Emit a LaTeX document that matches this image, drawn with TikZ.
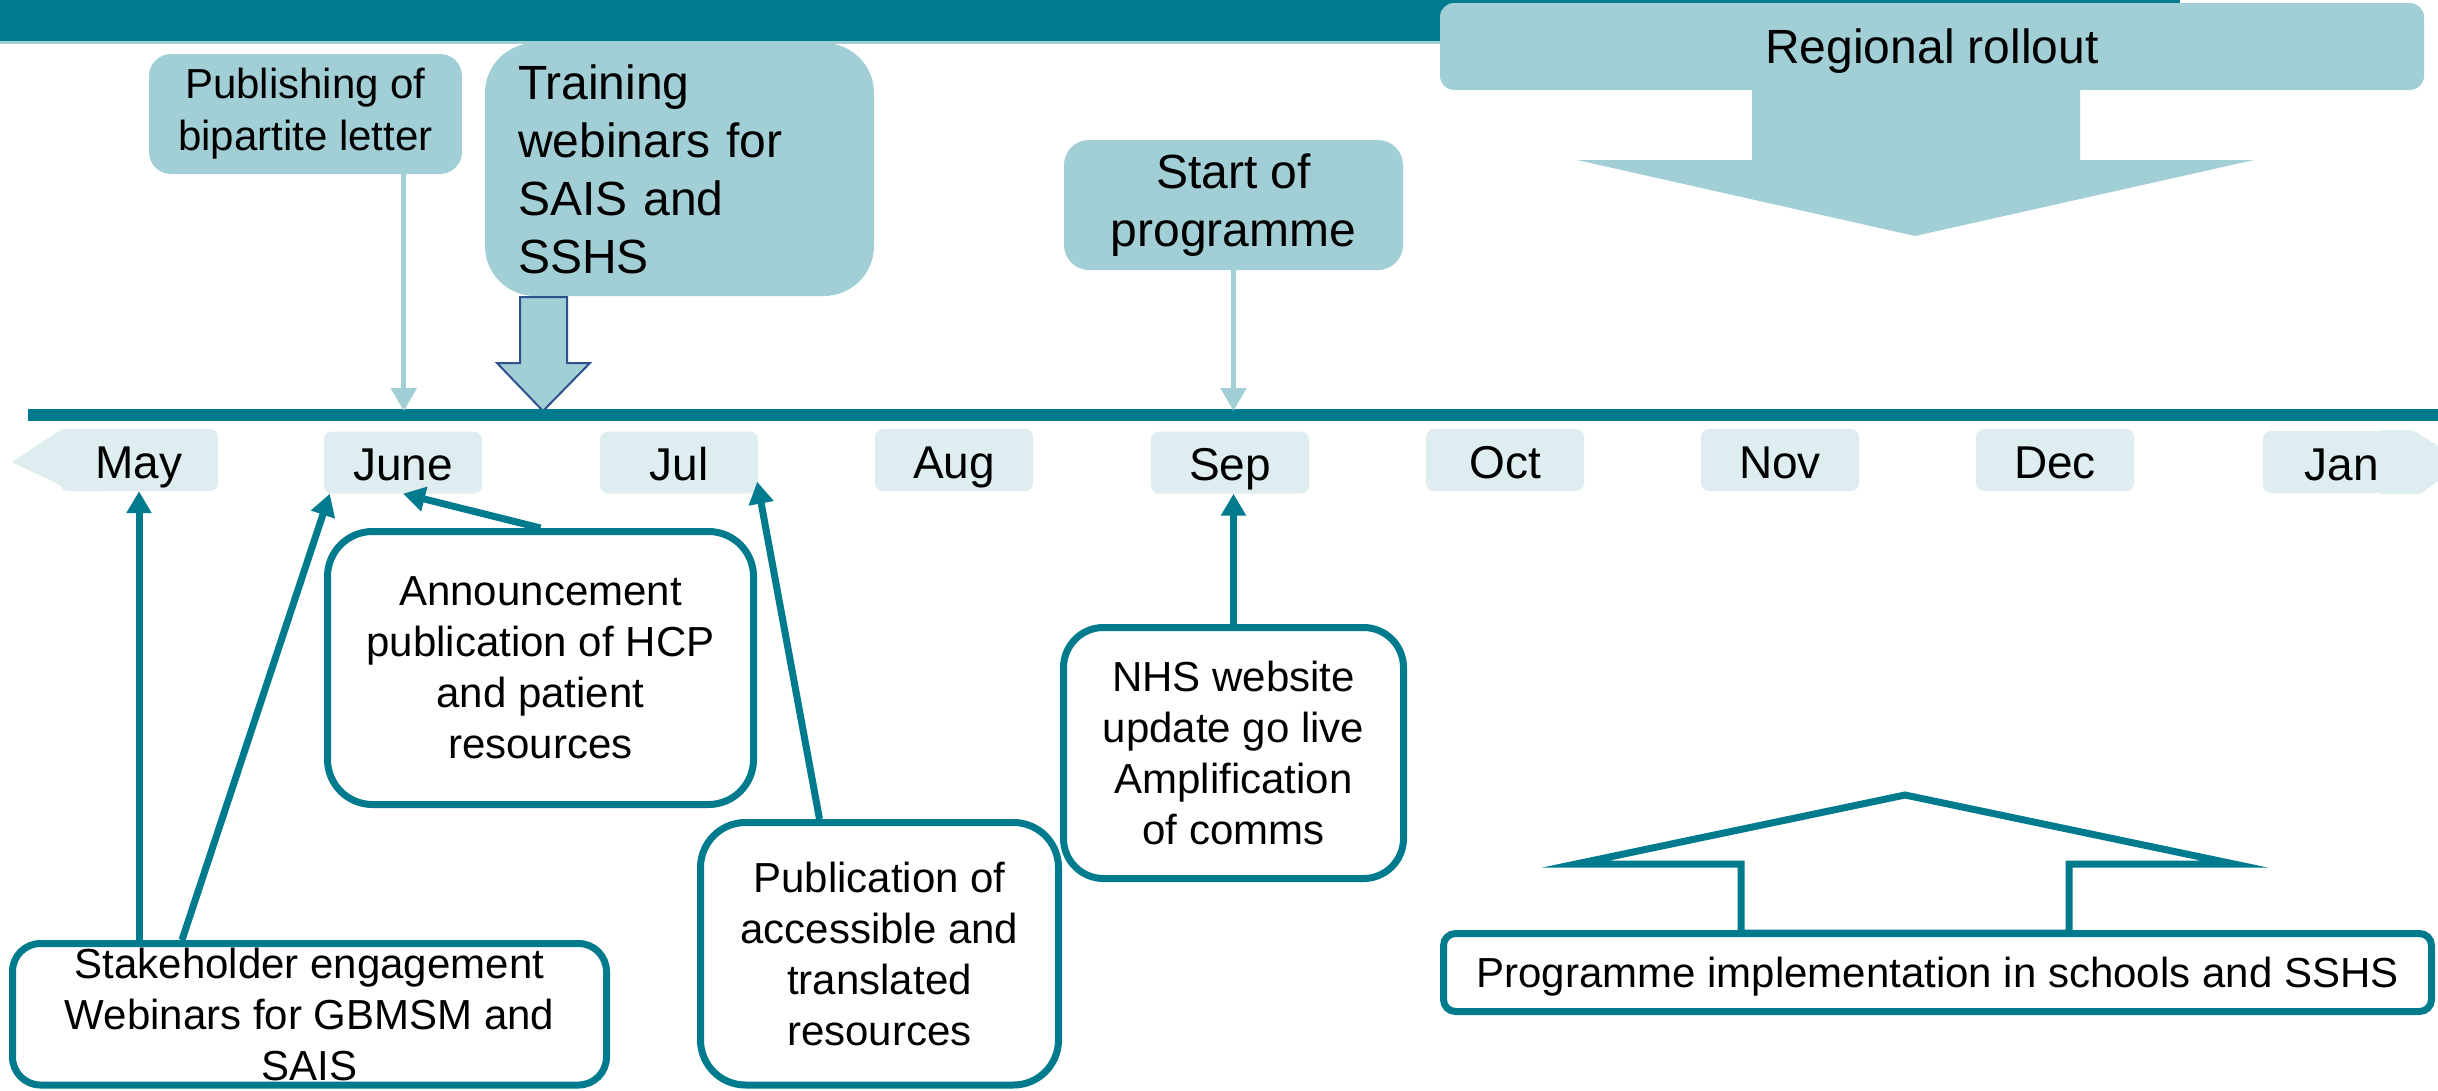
\documentclass[tikz,border=0pt]{standalone}
\usepackage{fontspec}
\setmainfont{Liberation Sans}
\usetikzlibrary{arrows.meta,calc}
\definecolor{teal1}{HTML}{007B8E}
\definecolor{lteal}{HTML}{A2CFD6}
\definecolor{mfill}{HTML}{DDEDF0}
\definecolor{navy}{HTML}{2F528F}
\begin{document}
\begin{tikzpicture}[x=1pt,y=1pt,
  fbox/.style={fill=lteal, rounded corners=#1, inner sep=0pt, align=center},
  tbox/.style={draw=teal1, line width=7pt, fill=white, rounded corners=#1, inner sep=0pt, align=center, font=\fontsize{42}{51}\selectfont},
  month/.style={fill=mfill, rounded corners=8pt, minimum width=158pt, minimum height=62pt, inner sep=0pt, text height=36pt, text depth=0pt, font=\fontsize{46}{55}\selectfont},
  conn/.style={draw=teal1, line width=7pt, -{Triangle[length=22pt 0 0,width=24pt 0 0]}},
  lconn/.style={draw=lteal, line width=5pt, -{Triangle[length=23pt 0 0,width=25pt 0 0]}},
]
\useasboundingbox (0,0) rectangle (2438,-1090);
\begin{scope}
\clip (0,0) rectangle (2438,-1090);
% top bar
\fill[teal1] (0,0) rectangle (2180,-41);
\fill[lteal] (0,-41) rectangle (2180,-43.5);
% regional rollout
\fill[lteal] (1752,-80) -- (1752,-160) -- (1577,-160) -- (1915,-236) -- (2254,-160) -- (2080,-160) -- (2080,-80) -- cycle;
\node[fbox=14pt, minimum width=984pt, minimum height=87pt, text depth=0pt, font=\fontsize{48}{58}\selectfont] (reg) at (1932,-46.5) {Regional rollout};
% publishing
\node[fbox=22pt, minimum width=313pt, minimum height=120pt, font=\fontsize{42}{52}\selectfont] (publ) at (305.5,-114) {Publishing of\\bipartite letter};
% training
\node[fbox=50pt, minimum width=389pt, minimum height=253pt, text width=323pt, align=left, font=\fontsize{48}{58}\selectfont] (train) at (679.5,-169.5) {Training\\webinars for\\SAIS and\\SSHS};
\draw[navy, line width=2pt, fill=lteal] (520,-297) -- (520,-363) -- (497,-363) -- (543,-411) -- (590,-363) -- (567,-363) -- (567,-297) -- cycle;
% start
\node[fbox=25pt, minimum width=339pt, minimum height=130pt, font=\fontsize{48}{58}\selectfont] (start) at (1233.5,-205) {Start of\\programme};
% timeline
\coordinate (tlL) at (28,-415);
\coordinate (tlR) at (2438,-415);
\coordinate (tlT) at (0,-411);
\draw[teal1, line width=12pt] (tlL) -- (tlR);
\coordinate (pA) at ($(publ.south west)+(255,0)$);
\draw[lconn] (pA) -- (pA |- tlT);
\draw[lconn] (start.south) -- (start.south |- tlT);
% months
\fill[mfill] (12,-462) -- (62,-429) -- (100,-429) -- (100,-491) -- (72,-491) -- cycle;
\fill[mfill] (2380,-430) -- (2412,-430) -- (2465,-462) -- (2420,-494) -- (2380,-494) -- cycle;
\node[month] (may) at (139,-460) {May};
\node[month] (june) at (403,-462.5) {June};
\node[month] (jul) at (679,-462.5) {Jul};
\node[month] (aug) at (954,-460) {Aug};
\node[month] (sep) at (1230,-462.5) {Sep};
\node[month] (oct) at (1505,-460) {Oct};
\node[month] (nov) at (1780,-460) {Nov};
\node[month] (dec) at (2055,-460) {Dec};
\node[month] (jan) at (2342,-462) {Jan};
% bordered boxes
\node[tbox=45pt, minimum width=426pt, minimum height=273pt] (ann) at (540.5,-668) {Announcement\\publication of HCP\\and patient\\resources};
\node[tbox=28pt, minimum width=594pt, minimum height=141.5pt] (stake) at (309.5,-1014.25) {Stakeholder engagement\\Webinars for GBMSM and\\SAIS};
\node[tbox=45pt, minimum width=358pt, minimum height=262.5pt] (pub) at (879.5,-953.75) {Publication of\\accessible and\\translated\\resources};
\node[tbox=40pt, minimum width=340pt, minimum height=251pt] (nhs) at (1233.5,-753) {NHS website\\update go live\\Amplification\\of comms};
\draw[teal1, line width=7pt, fill=white, miter limit=25] (1741,-933) -- (1741,-864) -- (1576,-864) -- (1905,-795) -- (2234,-864) -- (2069,-864) -- (2069,-933) -- cycle;
\node[tbox=12pt, minimum width=988pt, minimum height=78pt, text depth=0pt] (prog) at (1937.5,-972.5) {Programme implementation in schools and SSHS};
% connectors
\draw[conn] (stake.north -| may.south) -- (may.south);
\coordinate (sJ) at ($(stake.north west)+(173,0)$);
\draw[conn] (sJ) -- ($(june.south west)+(6,0)$);
\draw[conn] (ann.north) -- (june.south);
\coordinate (pJ) at ($(pub.north)+(-60,0)$);
\draw[conn] (pJ) -- ($(jul.south east)+(-1,12)$);
\draw[conn] (nhs.north) -- (nhs.north |- sep.south);
\end{scope}
\end{tikzpicture}
\end{document}
